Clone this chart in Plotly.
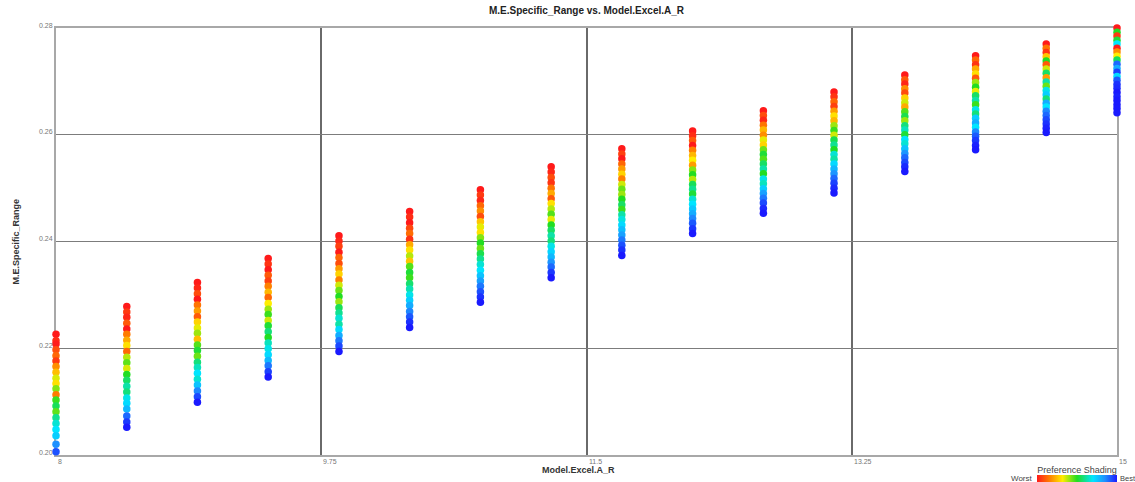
import plotly.graph_objects as go

# ---- data ----
x_values = [8.0, 8.467, 8.933, 9.4, 9.867, 10.333, 10.8, 11.267,
            11.733, 12.2, 12.667, 13.133, 13.6, 14.067, 14.533, 15.0]

y_c1 = [0.2226, 0.2214, 0.2208, 0.2197, 0.2186, 0.2176, 0.2166, 0.2155, 0.2144, 0.2134, 0.2124, 0.2113, 0.2103, 0.2092, 0.2081, 0.2070, 0.2059, 0.2048, 0.2036, 0.2020, 0.2006, 0.1998]
y_c2 = [0.2278, 0.2268, 0.2258, 0.2247, 0.2236, 0.2226, 0.2215, 0.2205, 0.2194, 0.2183, 0.2173, 0.2162, 0.2151, 0.2140, 0.2129, 0.2118, 0.2107, 0.2097, 0.2086, 0.2073, 0.2062, 0.2052]
y_c3 = [0.2323, 0.2313, 0.2302, 0.2292, 0.2281, 0.2270, 0.2259, 0.2249, 0.2238, 0.2228, 0.2217, 0.2206, 0.2196, 0.2185, 0.2174, 0.2164, 0.2153, 0.2142, 0.2131, 0.2120, 0.2109, 0.2099]
y_c4 = [0.2368, 0.2358, 0.2347, 0.2337, 0.2326, 0.2316, 0.2305, 0.2295, 0.2284, 0.2273, 0.2263, 0.2252, 0.2242, 0.2231, 0.2220, 0.2210, 0.2199, 0.2188, 0.2177, 0.2167, 0.2156, 0.2146]
y_c5 = [0.2411, 0.2401, 0.2391, 0.2380, 0.2370, 0.2359, 0.2349, 0.2339, 0.2328, 0.2318, 0.2308, 0.2297, 0.2287, 0.2276, 0.2266, 0.2256, 0.2245, 0.2235, 0.2224, 0.2214, 0.2204, 0.2194]
y_c6 = [0.2456, 0.2446, 0.2435, 0.2425, 0.2415, 0.2404, 0.2394, 0.2384, 0.2373, 0.2363, 0.2353, 0.2342, 0.2332, 0.2321, 0.2311, 0.2300, 0.2290, 0.2280, 0.2269, 0.2259, 0.2249, 0.2239]
y_c7 = [0.2497, 0.2487, 0.2477, 0.2467, 0.2457, 0.2447, 0.2437, 0.2427, 0.2417, 0.2407, 0.2397, 0.2387, 0.2377, 0.2367, 0.2357, 0.2346, 0.2336, 0.2326, 0.2316, 0.2306, 0.2296, 0.2286]
y_c8 = [0.2540, 0.2530, 0.2520, 0.2510, 0.2500, 0.2490, 0.2480, 0.2471, 0.2461, 0.2451, 0.2441, 0.2431, 0.2421, 0.2411, 0.2401, 0.2391, 0.2381, 0.2371, 0.2361, 0.2352, 0.2342, 0.2332]
y_c9 = [0.2574, 0.2564, 0.2555, 0.2545, 0.2536, 0.2526, 0.2517, 0.2507, 0.2498, 0.2488, 0.2479, 0.2469, 0.2460, 0.2450, 0.2441, 0.2431, 0.2422, 0.2412, 0.2403, 0.2393, 0.2384, 0.2374]
y_c10 = [0.2607, 0.2598, 0.2589, 0.2580, 0.2571, 0.2561, 0.2552, 0.2543, 0.2534, 0.2525, 0.2516, 0.2507, 0.2498, 0.2489, 0.2479, 0.2470, 0.2461, 0.2452, 0.2443, 0.2434, 0.2424, 0.2415]
y_c11 = [0.2645, 0.2636, 0.2627, 0.2618, 0.2609, 0.2599, 0.2590, 0.2581, 0.2572, 0.2563, 0.2554, 0.2545, 0.2536, 0.2527, 0.2517, 0.2508, 0.2499, 0.2490, 0.2481, 0.2472, 0.2462, 0.2453]
y_c12 = [0.2680, 0.2671, 0.2662, 0.2653, 0.2644, 0.2635, 0.2626, 0.2617, 0.2608, 0.2599, 0.2590, 0.2581, 0.2572, 0.2563, 0.2554, 0.2545, 0.2536, 0.2527, 0.2518, 0.2509, 0.2500, 0.2491]
y_c13 = [0.2712, 0.2703, 0.2695, 0.2686, 0.2678, 0.2669, 0.2660, 0.2652, 0.2643, 0.2634, 0.2626, 0.2617, 0.2609, 0.2600, 0.2591, 0.2583, 0.2574, 0.2565, 0.2557, 0.2548, 0.2540, 0.2531]
y_c14 = [0.2748, 0.2740, 0.2731, 0.2723, 0.2714, 0.2706, 0.2698, 0.2689, 0.2681, 0.2673, 0.2664, 0.2656, 0.2647, 0.2639, 0.2631, 0.2622, 0.2614, 0.2605, 0.2597, 0.2589, 0.2580, 0.2572]
y_c15 = [0.2770, 0.2762, 0.2754, 0.2746, 0.2738, 0.2731, 0.2723, 0.2715, 0.2707, 0.2699, 0.2691, 0.2683, 0.2675, 0.2667, 0.2659, 0.2652, 0.2644, 0.2636, 0.2628, 0.2620, 0.2612, 0.2604]
y_c16 = [0.2800, 0.2792, 0.2785, 0.2777, 0.2770, 0.2762, 0.2755, 0.2747, 0.2740, 0.2732, 0.2724, 0.2717, 0.2709, 0.2702, 0.2694, 0.2687, 0.2679, 0.2671, 0.2664, 0.2656, 0.2649, 0.2641]

# preference shading: 0 = worst (red) ... 1 = best (blue)
s_c1 = [0.00, 0.03, 0.00, 0.08, 0.12, 0.05, 0.18, 0.25, 0.35, 0.30, 0.42, 0.15, 0.48, 0.55, 0.45, 0.60, 0.66, 0.70, 0.74, 0.85, 0.93, 1.00]
s_c2 = [0.00, 0.05, 0.02, 0.10, 0.00, 0.15, 0.22, 0.30, 0.12, 0.38, 0.45, 0.35, 0.50, 0.56, 0.62, 0.58, 0.68, 0.72, 0.78, 0.90, 0.96, 1.00]
s_c3 = [0.00, 0.02, 0.08, 0.00, 0.14, 0.20, 0.10, 0.28, 0.34, 0.40, 0.25, 0.46, 0.52, 0.44, 0.58, 0.64, 0.70, 0.66, 0.76, 0.86, 0.94, 1.00]
s_c4 = [0.00, 0.04, 0.00, 0.10, 0.06, 0.16, 0.24, 0.12, 0.32, 0.40, 0.48, 0.36, 0.52, 0.58, 0.50, 0.64, 0.68, 0.72, 0.78, 0.88, 0.95, 1.00]
s_c5 = [0.00, 0.02, 0.06, 0.00, 0.12, 0.08, 0.20, 0.28, 0.16, 0.36, 0.44, 0.50, 0.40, 0.55, 0.60, 0.66, 0.62, 0.72, 0.80, 0.88, 0.94, 1.00]
s_c6 = [0.00, 0.03, 0.00, 0.07, 0.13, 0.04, 0.22, 0.30, 0.38, 0.26, 0.46, 0.52, 0.48, 0.57, 0.63, 0.68, 0.74, 0.80, 0.86, 0.92, 0.97, 1.00]
s_c7 = [0.00, 0.05, 0.02, 0.12, 0.18, 0.08, 0.26, 0.34, 0.30, 0.42, 0.50, 0.44, 0.54, 0.60, 0.66, 0.70, 0.76, 0.82, 0.88, 0.93, 0.97, 1.00]
s_c8 = [0.00, 0.02, 0.08, 0.04, 0.14, 0.22, 0.10, 0.30, 0.38, 0.46, 0.34, 0.50, 0.56, 0.62, 0.58, 0.68, 0.73, 0.78, 0.84, 0.90, 0.96, 1.00]
s_c9 = [0.00, 0.06, 0.00, 0.12, 0.20, 0.28, 0.16, 0.36, 0.44, 0.40, 0.50, 0.56, 0.48, 0.62, 0.67, 0.72, 0.77, 0.82, 0.88, 0.93, 0.97, 1.00]
s_c10 = [0.00, 0.03, 0.10, 0.00, 0.16, 0.24, 0.32, 0.20, 0.42, 0.50, 0.38, 0.55, 0.60, 0.52, 0.66, 0.70, 0.75, 0.80, 0.86, 0.92, 0.96, 1.00]
s_c11 = [0.00, 0.08, 0.02, 0.14, 0.24, 0.18, 0.34, 0.28, 0.44, 0.52, 0.46, 0.56, 0.62, 0.50, 0.68, 0.64, 0.74, 0.82, 0.88, 0.94, 0.98, 1.00]
s_c12 = [0.00, 0.04, 0.12, 0.06, 0.20, 0.30, 0.24, 0.40, 0.48, 0.36, 0.54, 0.60, 0.50, 0.66, 0.62, 0.72, 0.78, 0.84, 0.90, 0.95, 0.98, 1.00]
s_c13 = [0.00, 0.10, 0.02, 0.18, 0.08, 0.28, 0.36, 0.22, 0.46, 0.54, 0.40, 0.58, 0.64, 0.52, 0.70, 0.66, 0.76, 0.84, 0.90, 0.94, 0.98, 1.00]
s_c14 = [0.00, 0.12, 0.04, 0.22, 0.30, 0.10, 0.40, 0.50, 0.34, 0.56, 0.62, 0.48, 0.68, 0.58, 0.74, 0.80, 0.70, 0.86, 0.92, 0.96, 0.99, 1.00]
s_c15 = [0.00, 0.14, 0.04, 0.26, 0.50, 0.10, 0.36, 0.56, 0.20, 0.62, 0.44, 0.68, 0.74, 0.58, 0.80, 0.70, 0.86, 0.90, 0.94, 0.97, 0.99, 1.00]
s_c16 = [0.00, 0.50, 0.05, 0.52, 0.70, 0.00, 0.18, 0.32, 0.55, 0.90, 0.80, 0.95, 0.72, 0.92, 0.97, 0.98, 1.00, 0.99, 1.00, 1.00, 1.00, 1.00]

y_columns = [y_c1, y_c2, y_c3, y_c4, y_c5, y_c6, y_c7, y_c8,
             y_c9, y_c10, y_c11, y_c12, y_c13, y_c14, y_c15, y_c16]
s_columns = [s_c1, s_c2, s_c3, s_c4, s_c5, s_c6, s_c7, s_c8,
             s_c9, s_c10, s_c11, s_c12, s_c13, s_c14, s_c15, s_c16]

x_ticks = [8, 9.75, 11.5, 13.25, 15]
x_tick_text = ["8", "9.75", "11.5", "13.25", "15"]
y_ticks = [0.20, 0.22, 0.24, 0.26, 0.28]
y_tick_text = ["0.20", "0.22", "0.24", "0.26", "0.28"]

# ---- build flat arrays ----
xs, ys, ss = [], [], []
for xv, yc, sc in zip(x_values, y_columns, s_columns):
    for yv, sv in zip(yc, sc):
        xs.append(xv)
        ys.append(yv)
        ss.append(sv)

shade_scale = [
    [0.0, "#ff1a1a"],
    [0.15, "#ff7a00"],
    [0.32, "#ffee00"],
    [0.5, "#22dd22"],
    [0.7, "#00e5ff"],
    [0.85, "#1e90ff"],
    [1.0, "#1a1aff"],
]

W, H = 1135, 482
PL, PR, PT, PB = 56, 1117, 28, 455  # plot-area edges in pixels


def px(xp):
    return xp / W


def py(yp):
    return (H - yp) / H


fig = go.Figure()
fig.add_trace(go.Scatter(
    x=xs, y=ys, mode="markers", cliponaxis=False,
    marker=dict(
        size=7.5, color=ss, colorscale=shade_scale, cmin=0, cmax=1,
        line=dict(width=0),
        colorbar=dict(
            orientation="h", x=px(1077), xanchor="center",
            y=py(482), yanchor="bottom",
            len=80, lenmode="pixels", thickness=7,
            outlinewidth=0, showticklabels=False, ticks="",
            xpad=0, ypad=0,
            title=dict(text="Preference Shading", side="top",
                       font=dict(family="Liberation Sans, Arial", size=9, color="#444")),
        ),
    ),
    showlegend=False,
))

fig.update_layout(
    width=W, height=H,
    margin=dict(l=0, r=0, t=0, b=0),
    paper_bgcolor="white", plot_bgcolor="white",
    font=dict(family="Liberation Sans, Arial", size=8, color="#777"),
    title=dict(text="<b>M.E.Specific_Range vs. Model.Excel.A_R</b>",
               x=px((PL + PR) / 2), xanchor="center", y=py(10), yanchor="middle",
               font=dict(size=10, color="#222")),
    xaxis=dict(range=[8, 15], domain=[px(PL), px(PR)], tickvals=x_ticks,
               showticklabels=False,
               showgrid=True, gridcolor="#6a6a6a", gridwidth=1.5,
               showline=True, linecolor="#a8a8a8", linewidth=2, mirror=True,
               zeroline=False, ticks="", layer="below traces"),
    yaxis=dict(range=[0.20, 0.28], domain=[py(PB), py(PT)], tickvals=y_ticks,
               showticklabels=False,
               showgrid=True, gridcolor="#7c7c7c", gridwidth=1.2,
               showline=True, linecolor="#a8a8a8", linewidth=2, mirror=True,
               zeroline=False, ticks="", layer="below traces"),
)

for tv, tt in zip(x_ticks, x_tick_text):
    fig.add_annotation(x=tv, y=py(PB), xref="x", yref="paper", text=tt,
                       showarrow=False, xanchor="left", yanchor="top",
                       yshift=-1, font=dict(size=7, color="#777"))
for tv, tt in zip(y_ticks, y_tick_text):
    fig.add_annotation(x=px(PL), y=tv, xref="paper", yref="y", text=tt,
                       showarrow=False, xanchor="right", yanchor="middle",
                       xshift=-1, yshift=3, font=dict(size=7, color="#777"))

fig.add_annotation(x=px(578), y=py(470), xref="paper", yref="paper",
                   text="<b>Model.Excel.A_R</b>", showarrow=False,
                   xanchor="center", yanchor="middle",
                   font=dict(size=9, color="#333"))
fig.add_annotation(x=px(15), y=py((PT + PB) / 2), xref="paper", yref="paper",
                   text="<b>M.E.Specific_Range</b>", showarrow=False,
                   textangle=-90, xanchor="center", yanchor="middle",
                   font=dict(size=9, color="#333"))
fig.add_annotation(x=px(1035), y=py(478), xref="paper", yref="paper",
                   text="Worst", showarrow=False, xanchor="right", yanchor="middle",
                   font=dict(size=8, color="#444"))
fig.add_annotation(x=px(1118), y=py(478), xref="paper", yref="paper",
                   text="Best", showarrow=False, xanchor="left", yanchor="middle",
                   font=dict(size=7.5, color="#444"))

fig.write_html("out.html")
